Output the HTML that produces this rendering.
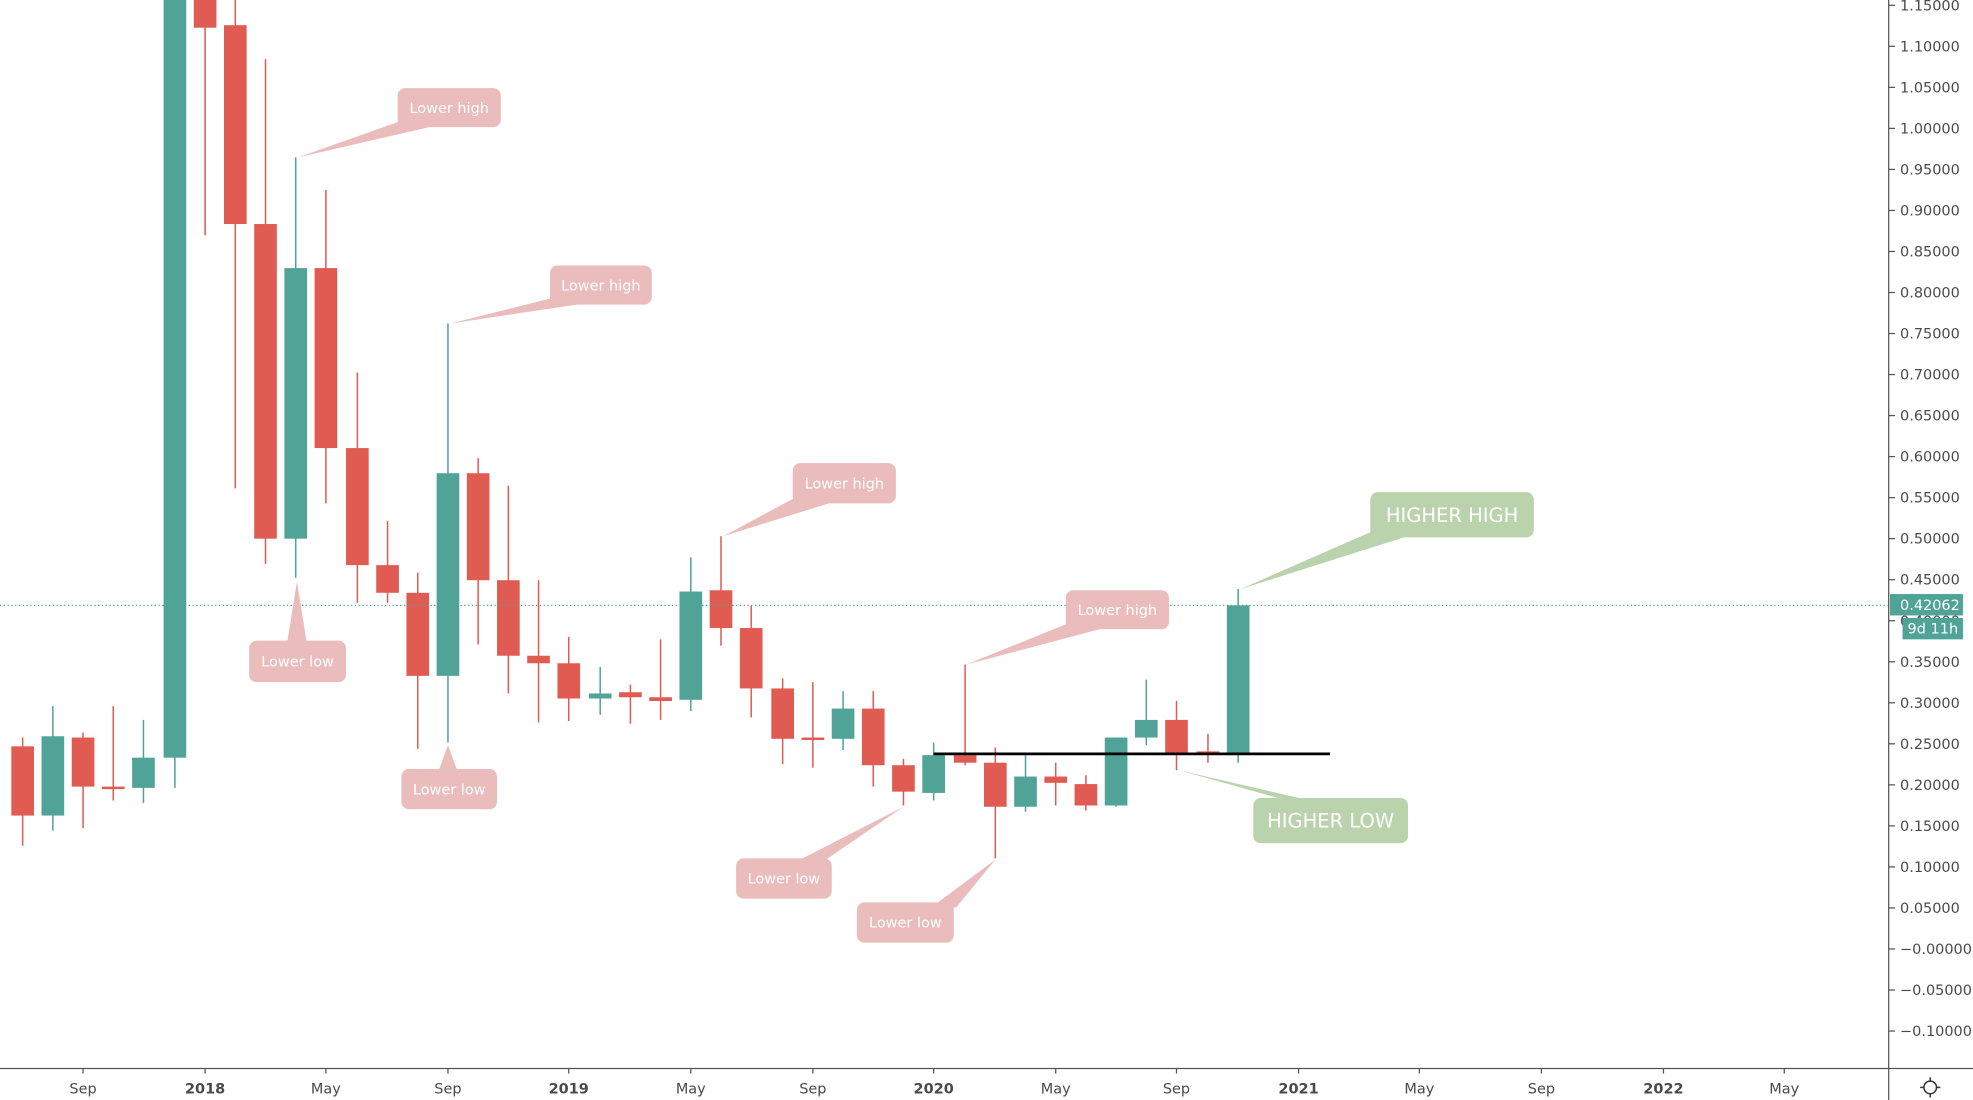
<!DOCTYPE html>
<html><head><meta charset="utf-8"><style>
html,body{margin:0;padding:0;background:#fff;width:1973px;height:1100px;overflow:hidden}
svg{display:block}
text{font-family:"DejaVu Sans","Liberation Sans",sans-serif}
</style></head><body>
<svg id="s" width="1973" height="1100" viewBox="0 0 1568 874" preserveAspectRatio="none" xmlns="http://www.w3.org/2000/svg">
<rect width="1568" height="874" fill="#fff"/>
<g id="cand"></g>
<line x1="0" y1="481" x2="1501" y2="481" stroke="#4fa397" stroke-width="1" stroke-dasharray="1,2"/>
<line x1="742" y1="599" x2="1057" y2="599" stroke="#000" stroke-width="2.2"/>
<g id="ann"></g>
<line x1="1501" y1="0" x2="1501" y2="874" stroke="#555" stroke-width="1"/>
<line x1="0" y1="849" x2="1568" y2="849" stroke="#555" stroke-width="1"/>
<g id="ax" font-size="11.5" fill="#4a4a4a"></g>
<rect x="1502" y="472" width="58" height="17" fill="#4fa397"/>
<text x="1510" y="484.5" font-size="11.5" fill="#fff">0.42062</text>
<rect x="1512" y="491" width="48" height="17" fill="#4fa397"/>
<text x="1516" y="503.5" font-size="11.5" fill="#fff">9d 11h</text>
<g transform="translate(1534,864)" fill="none" stroke="#333" stroke-width="1.2">
<circle r="5"/><line x1="0" y1="-8" x2="0" y2="-5"/><line x1="0" y1="5" x2="0" y2="8"/><line x1="-8" y1="0" x2="-5" y2="0"/><line x1="5" y1="0" x2="8" y2="0"/>
</g>
</svg>
<script>
var NS="http://www.w3.org/2000/svg";
function el(p,t,a,txt){var e=document.createElementNS(NS,t);for(var k in a)e.setAttribute(k,a[k]);if(txt!=null)e.textContent=txt;p.appendChild(e);return e;}
var G="#4fa397",R="#e05b52";
// x, bodyTop, bodyBottom, wickTop, wickBottom, color
var c=[[18,593,648,586,672,R],[42,585,648,561,660,G],[66,586,625,582,658,R],[90,625,627,561,636,R],[114,602,626,572,638,G],
[139,-5,602,-5,626,G],[163,-5,22,-5,187,R],[187,20,178,-5,388,R],[211,178,428,47,448,R],[235,213,428,125,459,G],
[259,213,356,151,400,R],[284,356,449,296,479,R],[308,449,471,414,479,R],[332,471,537,455,595,R],[356,376,537,257,590,G],
[380,376,461,364,512,R],[404,461,521,386,551,R],[428,521,527,461,574,R],[452,527,555,506,573,R],[477,551,555,530,568,G],
[501,550,554,544,575,R],[525,554,557,508,572,R],[549,470,556,443,565,G],[573,469,499,426,513,R],[597,499,547,481,570,R],
[622,547,587,539,607,R],[646,586,588,542,610,R],[670,563,587,549,596,G],[694,563,608,549,625,R],[718,608,629,603,640,R],
[742,600,630,590,636,G],[767,600,606,528,608,R],[791,606,641,594,682,R],[815,617,641,600,645,G],[839,617,622,606,640,R],
[863,623,640,616,644,R],[887,586,640,586,641,G],[911,572,586,540,592,G],[935,572,598,557,612,R],[960,597,599,583,606,R],[984,481,599,468,606,G]];
var cg=document.getElementById("cand");
c.forEach(function(d){el(cg,"line",{x1:d[0],x2:d[0],y1:d[3],y2:d[4],stroke:d[5],"stroke-width":1.2});
el(cg,"rect",{x:d[0]-9,y:d[1],width:18,height:Math.max(2,d[2]-d[1]),fill:d[5]});});
var ag=document.getElementById("ann");
var P="#ebbcbc",GG="#bbd3ad";
// box x,y,w,h, text, triangle pts, color, fontsize
var A=[[316,70,82,31,"Lower high","330,92 350,99 237,125",P,11.5],
[437,211,81,31,"Lower high","450,234 472,240 358,257",P,11.5],
[198,509,77,33,"Lower low","228,512 244,512 236,462",P,11.5],
[319,611,76,32,"Lower low","348,614 364,614 356,592",P,11.5],
[630,368,82,32,"Lower high","640,391 665,398 575,426",P,11.5],
[847,469,82,31,"Lower high","862,490 885,497 768,528",P,11.5],
[585,682,76,32,"Lower low","630,686 652,686 718,641",P,11.5],
[681,717,77,32,"Lower low","740,721 760,721 791,683",P,11.5],
[1089,391,130,36,"HIGHER HIGH","1100,418 1125,424 986,468",GG,15.5],
[996,634,123,36,"HIGHER LOW","1030,638 1058,640 937,612",GG,15.5]];
A.forEach(function(a){el(ag,"polygon",{points:a[5],fill:a[6]});
el(ag,"rect",{x:a[0],y:a[1],width:a[2],height:a[3],rx:6,fill:a[6]});
el(ag,"text",{x:a[0]+a[2]/2,y:a[1]+a[3]/2+a[7]*0.36,"text-anchor":"middle","font-size":a[7],fill:"#fff"},a[4]);});
var ax=document.getElementById("ax");
for(var i=-2;i<=23;i++){var p=i*0.05,y=754-p*652;if(y<0||y>845)continue;
el(ax,"line",{x1:1501,x2:1506,y1:y,y2:y,stroke:"#555"});
if(Math.abs(y-481)<12)continue;
var s=(i<=0?"\u22120.":"0.");var v=Math.abs(p).toFixed(5);s=(i<=0?"\u2212":"")+v;if(i==0)s="\u22120.00000";
el(ax,"text",{x:i<=0?1510:1510,y:y+4},s);}
var T=[[66,"Sep",0],[163,"2018",1],[259,"May",0],[356,"Sep",0],[452,"2019",1],[549,"May",0],[646,"Sep",0],[742,"2020",1],[839,"May",0],[935,"Sep",0],[1032,"2021",1],[1128,"May",0],[1225,"Sep",0],[1322,"2022",1],[1418,"May",0]];
T.forEach(function(t){el(ax,"line",{x1:t[0],x2:t[0],y1:849,y2:853,stroke:"#555"});
var e=el(ax,"text",{x:t[0],y:869,"text-anchor":"middle"},t[1]);if(t[2])e.setAttribute("font-weight","bold");});
</script>
</body></html>
